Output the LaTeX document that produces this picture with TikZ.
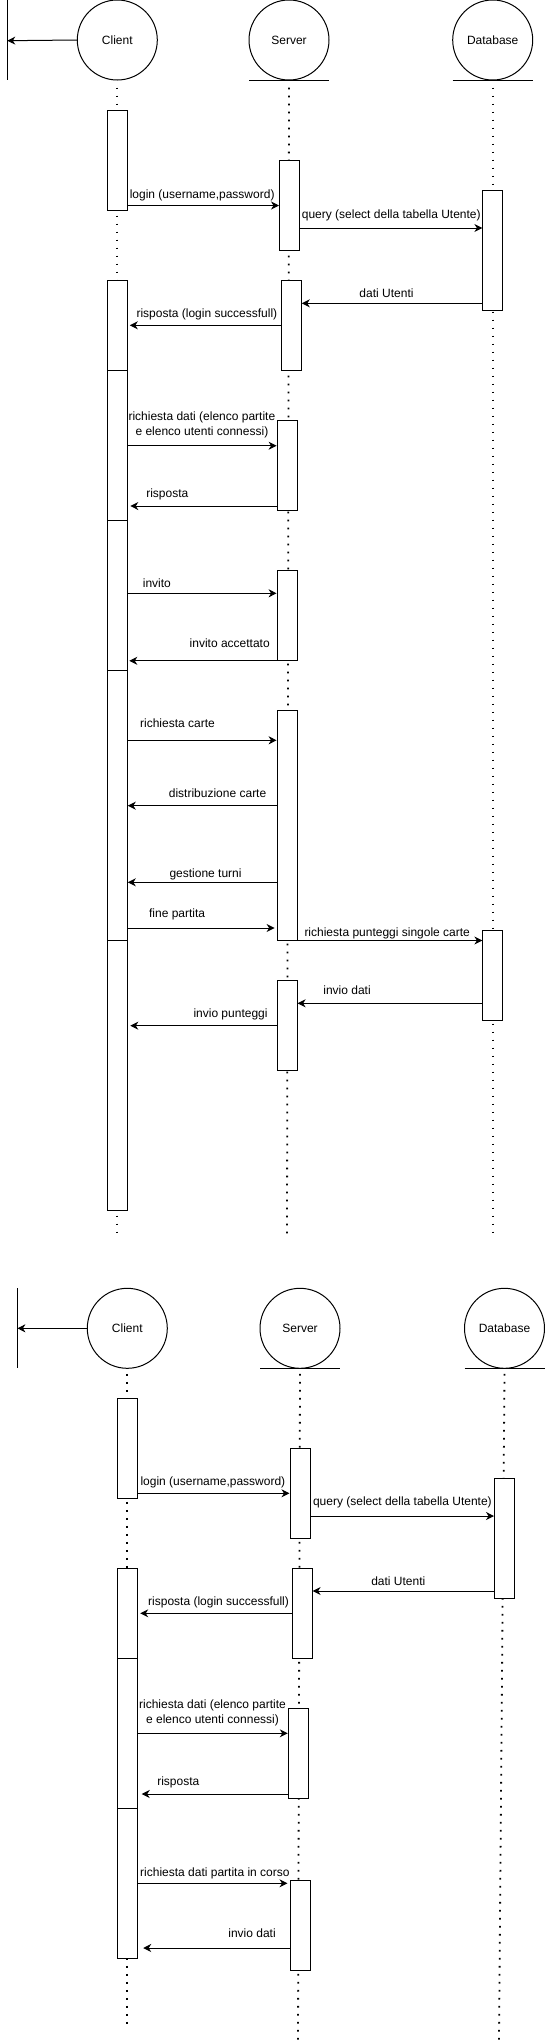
\documentclass[tikz,border=0pt]{standalone}
\usepackage{fontspec}
\setmainfont{Liberation Sans}
\usetikzlibrary{arrows.meta}

\tikzset{
  obj/.style={circle, draw, minimum size=80pt, inner sep=0pt},
  act/.style={draw, fill=white, minimum width=20pt, inner sep=0pt},
  msg/.style={-{Stealth[length=8pt,width=8pt,inset=2.5pt]}},
  life/.style={line width=1.8pt, dash pattern=on 1.8pt off 6.2pt},
  lbl/.style={inner sep=0pt, text height=9pt, text depth=2.5pt},
  lbltwo/.style={inner sep=0pt, align=center, font=\fontsize{12}{15}\selectfont},
}

\begin{document}
\begin{tikzpicture}[x=1pt, y=-1pt, line width=1pt, font=\fontsize{12}{15}\selectfont]
    \useasboundingbox (0,0) rectangle (545,2043);

    % first diagram
    \node[obj] at (117.3,40)(cl) {Client};
    \node[obj] at (289,40)(sv) {Server};
    \node[obj] at (492.7,40)(db) {Database};
    \draw (7.3,0) -- (7.3,80);
    \coordinate (bnd) at (7.3,40.7);
    \draw[msg] (cl.west) -- (bnd);
    \draw ([xshift=-40pt]sv.south) -- ([xshift=40pt]sv.south);
    \draw ([xshift=-40pt]db.south) -- ([xshift=40pt]db.south);

    \coordinate (clend) at (117.3,1239.3);
    \coordinate (svend) at (287,1239.3);
    \coordinate (dbend) at (492.7,1239.3);
    \draw[life] ([yshift=-7pt]cl.south) -- (clend);
    \draw[life] ([yshift=-7pt]sv.south) -- (svend);
    \draw[life] ([yshift=-7pt]db.south) -- (dbend);

    \node[act, minimum height=100.3] at (117.3,160.15)(c1) {};
    \node[act, minimum height=89.7] at (289.5,205.15)(s1) {};
    \node[act, minimum height=119.7] at (492.9,250.15)(d1) {};
    \node[act, minimum height=89.6] at (117.3,325.5)(c2) {};
    \node[act, minimum height=90] at (291.3,325.3)(s2) {};
    \node[act, minimum height=150] at (117.3,445.3)(c3) {};
    \node[act, minimum height=90] at (287.1,465.3)(s3) {};
    \node[act, minimum height=150] at (117.3,595.3)(c4) {};
    \node[act, minimum height=90] at (287.1,615.3)(s4) {};
    \node[act, minimum height=269.7] at (117.3,805.15)(c5) {};
    \node[act, minimum height=229.7] at (287.1,825.15)(s5) {};
    \node[act, minimum height=90] at (492.9,975.3)(d2) {};
    \node[act, minimum height=89.6] at (287.1,1025.5)(s6) {};
    \node[act, minimum height=270.3] at (117.3,1075.15)(c6) {};

    \draw[msg] (c1.east |- 0,205.5) -- (s1.west |- 0,205.5);
    \draw[msg] (s1.east |- 0,228) -- (d1.west |- 0,228);
    \draw[msg] (d1.west |- 0,303.3) -- (s2.east |- 0,303.3);
    \draw[msg, shorten >=2pt] (s2.west |- 0,325.3) -- (c2.east |- 0,325.3);
    \draw[msg] (c3.east |- 0,445.7) -- (s3.west |- 0,445.7);
    \draw[msg, shorten >=2.5pt] (s3.west |- 0,506) -- (c3.east |- 0,506);
    \draw[msg] (c4.east |- 0,593.3) -- (s4.west |- 0,593.3);
    \draw[msg, shorten >=1.5pt] (s4.south west) -- (c4.east |- s4.south west);
    \draw[msg] (c5.east |- 0,740.3) -- (s5.west |- 0,740.3);
    \draw[msg] (s5.west |- 0,805.7) -- (c5.east |- 0,805.7);
    \draw[msg] (s5.west |- 0,882.3) -- (c5.east |- 0,882.3);
    \draw[msg, shorten >=2pt] (c5.east |- 0,928) -- (s5.west |- 0,928);
    \draw[msg] (s5.south east) -- (d2.west |- s5.south east);
    \draw[msg] (d2.west |- 0,1003.3) -- (s6.east |- 0,1003.3);
    \draw[msg, shorten >=2.5pt] (s6.west |- 0,1025.7) -- (c6.east |- 0,1025.7);

    \node[lbl, anchor=west] at (129.3,195)(t1) {login (username,password)};
    \node[lbl, anchor=west] at (301.4,215)(t2) {query (select della tabella Utente)};
    \node[lbl] at (386.5,294.7)(t3) {dati Utenti};
    \node[lbl] at (206.9,314.3)(t4) {risposta (login successfull)};
    \node[lbltwo] at (201.9,425.2)(t5) {richiesta dati (elenco partite\\e elenco utenti connessi)};
    \node[lbl, anchor=west] at (145.8,494.7)(t6) {risposta};
    \node[lbl, anchor=west] at (142.4,584.7)(t7) {invito};
    \node[lbl, anchor=west] at (189.2,644.7)(t8) {invito accettato};
    \node[lbl, anchor=west] at (139.6,724.3)(t9) {richiesta carte};
    \node[lbl, anchor=west] at (168.4,794.7)(t10) {distribuzione carte};
    \node[lbl, anchor=west] at (169,874.7)(t11) {gestione turni};
    \node[lbl, anchor=west] at (148.6,914.3)(t12) {fine partita};
    \node[lbl, anchor=west] at (304,933.3)(t13) {richiesta punteggi singole carte};
    \node[lbl, anchor=west] at (322.9,991.7)(t14) {invio dati};
    \node[lbl, anchor=west] at (193,1014.7)(t15) {invio punteggi};

    % second diagram
    \node[obj] at (127.3,1328.3)(cltwo) {Client};
    \node[obj] at (300,1328.3)(svtwo) {Server};
    \node[obj] at (504.5,1328.3)(dbtwo) {Database};
    \draw (17.4,1288.3) -- (17.4,1368.3);
    \coordinate (bndtwo) at (17.4,1328.3);
    \draw[msg] (cltwo.west) -- (bndtwo);
    \draw ([xshift=-40pt]svtwo.south) -- ([xshift=40pt]svtwo.south);
    \draw ([xshift=-40pt]dbtwo.south) -- ([xshift=40pt]dbtwo.south);

    \coordinate (cltwoend) at (127.3,2029.7);
    \coordinate (svtwoend) at (298,2039.7);
    \coordinate (dbtwoend) at (499,2040);
    \draw[life] ([yshift=-5pt]cltwo.south) -- (cltwoend);
    \draw[life] ([yshift=-5pt]svtwo.south) -- (svtwoend);
    \draw[life] ([yshift=-5pt]dbtwo.south) -- (dbtwoend);

    \node[act, minimum height=100] at (127.7,1448.3)(e1) {};
    \node[act, minimum height=89.7] at (300,1493.15)(f1) {};
    \node[act, minimum height=120] at (504.5,1538.3)(g1) {};
    \node[act, minimum height=90] at (127.7,1613.3)(e2) {};
    \node[act, minimum height=90] at (302.1,1613.3)(f2) {};
    \node[act, minimum height=150] at (127.7,1733.3)(e3) {};
    \node[act, minimum height=89.6] at (298.3,1753.5)(f3) {};
    \node[act, minimum height=149.7] at (127.7,1883.15)(e4) {};
    \node[act, minimum height=90] at (300,1925.3)(f4) {};

    \draw[msg] (e1.east |- 0,1493.3) -- (f1.west |- 0,1493.3);
    \draw[msg] (f1.east |- 0,1516) -- (g1.west |- 0,1516);
    \draw[msg] (g1.west |- 0,1591) -- (f2.east |- 0,1591);
    \draw[msg, shorten >=2pt] (f2.west |- 0,1613.3) -- (e2.east |- 0,1613.3);
    \draw[msg] (e3.east |- 0,1733.3) -- (f3.west |- 0,1733.3);
    \draw[msg, shorten >=3.5pt] (f3.west |- 0,1794) -- (e3.east |- 0,1794);
    \draw[msg, shorten >=2pt] (e4.east |- 0,1883.3) -- (f4.west |- 0,1883.3);
    \draw[msg, shorten >=5pt] (f4.west |- 0,1948) -- (e4.east |- 0,1948);

    \node[lbl, anchor=west] at (140,1482.3)(u1) {login (username,password)};
    \node[lbl, anchor=west] at (312.5,1502.7)(u2) {query (select della tabella Utente)};
    \node[lbl] at (398.3,1582.7)(u3) {dati Utenti};
    \node[lbl, anchor=west] at (147.7,1602.7)(u4) {risposta (login successfull)};
    \node[lbltwo] at (212.5,1713.2)(u5) {richiesta dati (elenco partite\\e elenco utenti connessi)};
    \node[lbl, anchor=west] at (156.8,1782.3)(u6) {risposta};
    \node[lbl, anchor=west] at (139.7,1873)(u7) {richiesta dati partita in corso};
    \node[lbl, anchor=west] at (227.9,1934.7)(u8) {invio dati};
\end{tikzpicture}
\end{document}
